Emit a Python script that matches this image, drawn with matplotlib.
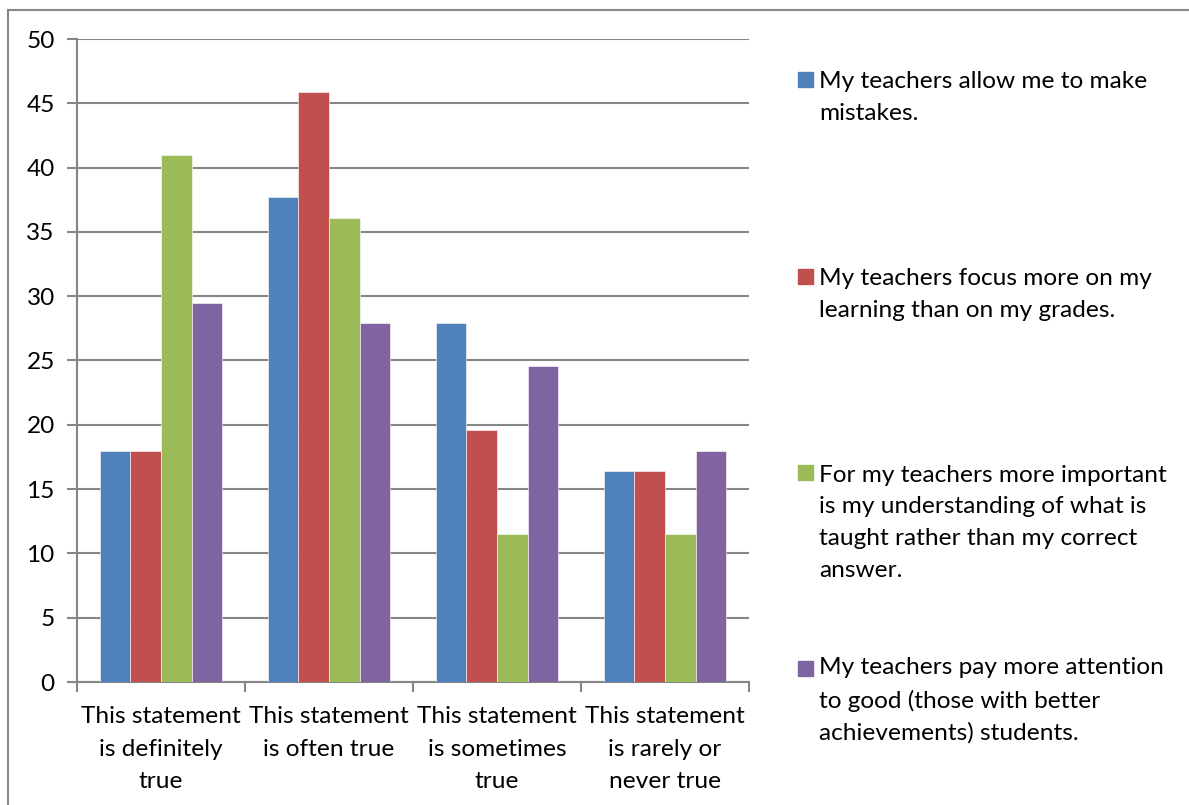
import numpy as np
import matplotlib
matplotlib.use("Agg")
import matplotlib.pyplot as plt
from matplotlib.patches import Rectangle
from matplotlib.lines import Line2D

plt.rcParams['font.family'] = ['Lato', 'DejaVu Sans']

categories = ["This statement\nis definitely\ntrue",
              "This statement\nis often true",
              "This statement\nis sometimes\ntrue",
              "This statement\nis rarely or\nnever true"]

series_labels = ["My teachers allow me to make\nmistakes.",
                 "My teachers focus more on my\nlearning than on my grades.",
                 "For my teachers more important\nis my understanding of what is\ntaught rather than my correct\nanswer.",
                 "My teachers pay more attention\nto good (those with better\nachievements) students."]

allow_mistakes = [18.0, 37.7, 27.9, 16.4]
focus_learning = [18.0, 45.9, 19.6, 16.4]
understanding = [41.0, 36.1, 11.5, 11.5]
attention_good = [29.5, 27.9, 24.6, 18.0]

colors = ["#4F81BD", "#C0504D", "#9BBB59", "#8064A2"]
yticks = [0, 5, 10, 15, 20, 25, 30, 35, 40, 45, 50]

W, H = 1189, 805
FS = 17.6
LS = 1.62      # line spacing, about 32 px between lines
LINE_PX = 32
fig = plt.figure(figsize=(W / 100, H / 100), dpi=100)
ax = fig.add_axes([77 / W, 1 - 682 / H, (749 - 77) / W, (682 - 39) / H])

all_series = [allow_mistakes, focus_learning, understanding, attention_good]
x = np.arange(len(categories))
bw = 0.182
for i, (vals, c) in enumerate(zip(all_series, colors)):
    ax.bar(x + (i - 1.5) * bw, vals, bw, color=c, edgecolor="white",
           linewidth=0.4, zorder=3)

grid_c = "#868686"
ax.set_xlim(-0.5, 3.5)
ax.set_ylim(0, 50)
ax.set_yticks(yticks)
ax.yaxis.grid(True, color=grid_c, linewidth=1.5, zorder=0)
for s in ["top", "right"]:
    ax.spines[s].set_visible(False)
for s in ["left", "bottom"]:
    ax.spines[s].set_color(grid_c)
    ax.spines[s].set_linewidth(1.5)

ax.set_xticks(np.arange(-0.5, 4.0, 1.0))
ax.set_xticklabels([])
ax.set_xticks(x, minor=True)
ax.set_xticklabels(categories, minor=True, fontsize=FS, linespacing=1.7)
ax.tick_params(axis="x", which="major", length=7, width=1.5, color=grid_c)
ax.tick_params(axis="x", which="minor", length=0, pad=17)
ax.tick_params(axis="y", length=7, width=1.5, color=grid_c, labelsize=FS, pad=9)

# legend, spaced like the original (one entry per quarter of the height)
baselines = [88, 284.5, 480.5, 676]
for lab, c, yy in zip(series_labels, colors, baselines):
    fig.patches.append(Rectangle((798 / W, 1 - (yy - 0.5) / H), 15 / W, 15 / H,
                                 transform=fig.transFigure, color=c))
    # va="baseline" puts the last line on y, so move down by the extra lines
    n_extra = lab.count("\n")
    fig.text(819 / W, 1 - (yy + n_extra * LINE_PX) / H, lab, fontsize=FS,
             va="baseline", ha="left", linespacing=LS)

# chart area border
fig.lines.append(Line2D([8 / W, 1], [1 - 10 / H, 1 - 10 / H],
                        transform=fig.transFigure, color="#888888", linewidth=1.5))
fig.lines.append(Line2D([8 / W, 8 / W], [0, 1 - 10 / H],
                        transform=fig.transFigure, color="#888888", linewidth=1.5))

fig.savefig("out.png", dpi=100, facecolor="white")
